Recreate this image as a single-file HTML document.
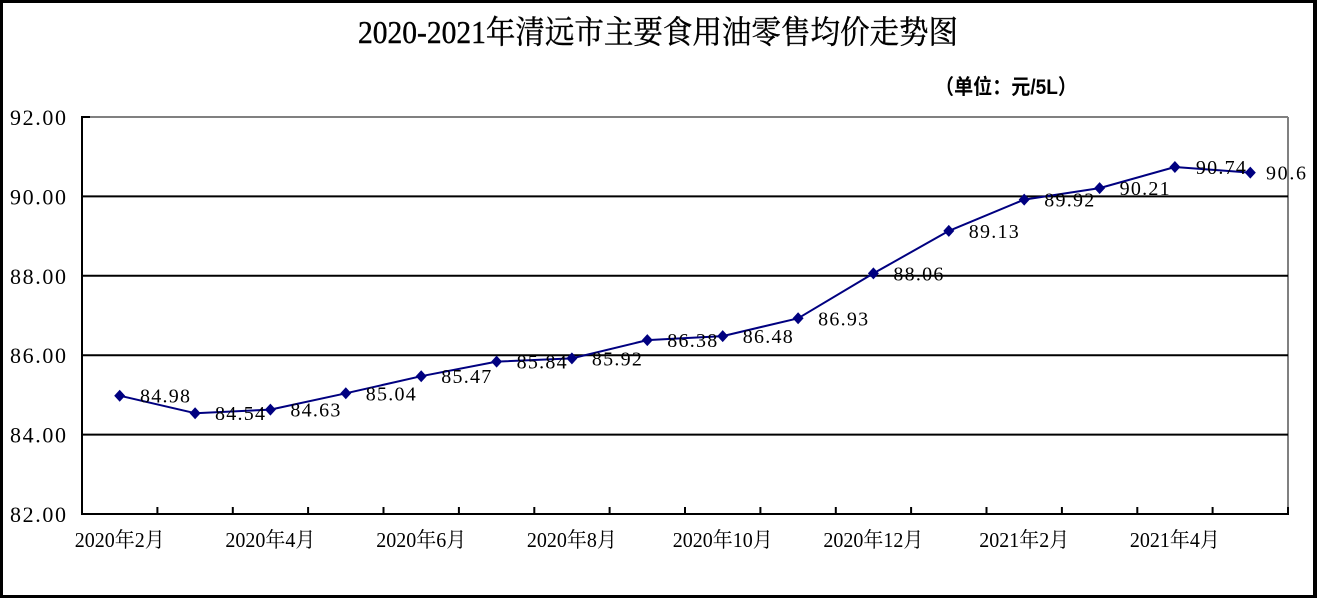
<!DOCTYPE html>
<html><head><meta charset="utf-8"><style>
html,body{margin:0;padding:0;background:#fff;}
svg{display:block;}
</style></head><body>
<svg width="1317" height="598" viewBox="0 0 1317 598" xmlns="http://www.w3.org/2000/svg">
<rect x="0" y="0" width="1317" height="598" fill="#fff"/>
<!-- outer border -->
<rect x="0" y="0" width="1317" height="3" fill="#000"/>
<rect x="0" y="0" width="3" height="598" fill="#000"/>
<rect x="1313" y="0" width="4" height="598" fill="#000"/>
<rect x="0" y="595" width="1317" height="3" fill="#000"/>

<!-- title -->
<text x="358" y="43" font-size="32" textLength="600" lengthAdjust="spacingAndGlyphs" font-family="'Liberation Serif','Noto Serif CJK SC',serif" fill="#000" stroke="#000" stroke-width="0.4">2020-2021年清远市主要食用油零售均价走势图</text>
<text x="935" y="94" font-size="21" font-weight="bold" textLength="142" lengthAdjust="spacingAndGlyphs" font-family="'Liberation Sans','Noto Sans CJK SC',sans-serif" fill="#000">（单位：元/5L）</text>

<!-- plot frame -->
<line x1="82" y1="117" x2="1288" y2="117" stroke="#808080" stroke-width="2"/>
<line x1="1288" y1="117" x2="1288" y2="514" stroke="#808080" stroke-width="2"/>
<!-- gridlines -->
<g stroke="#000" stroke-width="2">
<line x1="82" y1="196.4" x2="1288" y2="196.4"/>
<line x1="82" y1="275.8" x2="1288" y2="275.8"/>
<line x1="82" y1="355.2" x2="1288" y2="355.2"/>
<line x1="82" y1="434.6" x2="1288" y2="434.6"/>
<line x1="82" y1="514" x2="1289" y2="514"/>
<line x1="82" y1="116" x2="82" y2="515"/>
<line x1="82" y1="117" x2="90" y2="117"/>
</g>
<!-- x ticks -->
<g stroke="#000" stroke-width="2">
<line x1="157.4" y1="507" x2="157.4" y2="514"/>
<line x1="232.8" y1="507" x2="232.8" y2="514"/>
<line x1="308.1" y1="507" x2="308.1" y2="514"/>
<line x1="383.5" y1="507" x2="383.5" y2="514"/>
<line x1="458.9" y1="507" x2="458.9" y2="514"/>
<line x1="534.3" y1="507" x2="534.3" y2="514"/>
<line x1="609.6" y1="507" x2="609.6" y2="514"/>
<line x1="685" y1="507" x2="685" y2="514"/>
<line x1="760.4" y1="507" x2="760.4" y2="514"/>
<line x1="835.8" y1="507" x2="835.8" y2="514"/>
<line x1="911.1" y1="507" x2="911.1" y2="514"/>
<line x1="986.5" y1="507" x2="986.5" y2="514"/>
<line x1="1061.9" y1="507" x2="1061.9" y2="514"/>
<line x1="1137.3" y1="507" x2="1137.3" y2="514"/>
<line x1="1212.6" y1="507" x2="1212.6" y2="514"/>
<line x1="1288" y1="507" x2="1288" y2="514"/>
</g>

<!-- y labels -->
<g font-family="'Liberation Serif','Noto Serif CJK SC',serif" font-size="22" fill="#000">
<text x="10" y="125" textLength="56" lengthAdjust="spacing">92.00</text>
<text x="10" y="204.4" textLength="56" lengthAdjust="spacing">90.00</text>
<text x="10" y="283.8" textLength="56" lengthAdjust="spacing">88.00</text>
<text x="10" y="363.2" textLength="56" lengthAdjust="spacing">86.00</text>
<text x="10" y="442.6" textLength="56" lengthAdjust="spacing">84.00</text>
<text x="10" y="522" textLength="56" lengthAdjust="spacing">82.00</text>
</g>

<!-- x labels -->
<g font-family="'Liberation Serif','Noto Serif CJK SC',serif" font-size="21" fill="#000">
<text x="74.7" y="547" textLength="90" lengthAdjust="spacingAndGlyphs">2020年2月</text>
<text x="225.4" y="547" textLength="90" lengthAdjust="spacingAndGlyphs">2020年4月</text>
<text x="376.2" y="547" textLength="90" lengthAdjust="spacingAndGlyphs">2020年6月</text>
<text x="526.9" y="547" textLength="90" lengthAdjust="spacingAndGlyphs">2020年8月</text>
<text x="672.7" y="547" textLength="100" lengthAdjust="spacingAndGlyphs">2020年10月</text>
<text x="823.4" y="547" textLength="100" lengthAdjust="spacingAndGlyphs">2020年12月</text>
<text x="979.2" y="547" textLength="90" lengthAdjust="spacingAndGlyphs">2021年2月</text>
<text x="1129.9" y="547" textLength="90" lengthAdjust="spacingAndGlyphs">2021年4月</text>
</g>

<!-- series line -->
<polyline fill="none" stroke="#000080" stroke-width="2" stroke-linejoin="round" points="119.7,395.7 195.1,413.2 270.4,409.6 345.8,393.3 421.2,376.2 496.6,361.6 571.9,358.4 647.3,340.1 722.7,336.1 798.1,318.3 873.4,273.4 948.8,230.9 1024.2,199.6 1099.6,188.1 1174.9,167 1250.3,172.6"/>
<!-- markers -->
<g fill="#000080">
<polygon points="119.7,389.7 125.2,395.7 119.7,401.7 114.2,395.7"/>
<polygon points="195.1,407.2 200.6,413.2 195.1,419.2 189.6,413.2"/>
<polygon points="270.4,403.6 275.9,409.6 270.4,415.6 264.9,409.6"/>
<polygon points="345.8,387.3 351.3,393.3 345.8,399.3 340.3,393.3"/>
<polygon points="421.2,370.2 426.7,376.2 421.2,382.2 415.7,376.2"/>
<polygon points="496.6,355.6 502.1,361.6 496.6,367.6 491.1,361.6"/>
<polygon points="571.9,352.4 577.4,358.4 571.9,364.4 566.4,358.4"/>
<polygon points="647.3,334.1 652.8,340.1 647.3,346.1 641.8,340.1"/>
<polygon points="722.7,330.1 728.2,336.1 722.7,342.1 717.2,336.1"/>
<polygon points="798.1,312.3 803.6,318.3 798.1,324.3 792.6,318.3"/>
<polygon points="873.4,267.4 878.9,273.4 873.4,279.4 867.9,273.4"/>
<polygon points="948.8,224.9 954.3,230.9 948.8,236.9 943.3,230.9"/>
<polygon points="1024.2,193.6 1029.7,199.6 1024.2,205.6 1018.7,199.6"/>
<polygon points="1099.6,182.1 1105.1,188.1 1099.6,194.1 1094.1,188.1"/>
<polygon points="1174.9,161 1180.4,167 1174.9,173 1169.4,167"/>
<polygon points="1250.3,166.6 1255.8,172.6 1250.3,178.6 1244.8,172.6"/>
</g>

<!-- data labels -->
<g font-family="'Liberation Serif','Noto Serif CJK SC',serif" font-size="20" fill="#000">
<text x="140" y="402.7" textLength="50" lengthAdjust="spacing">84.98</text>
<text x="215" y="420.2" textLength="50" lengthAdjust="spacing">84.54</text>
<text x="290.4" y="416.6" textLength="50" lengthAdjust="spacing">84.63</text>
<text x="365.8" y="400.3" textLength="50" lengthAdjust="spacing">85.04</text>
<text x="441.2" y="383.2" textLength="50" lengthAdjust="spacing">85.47</text>
<text x="516.6" y="368.6" textLength="50" lengthAdjust="spacing">85.84</text>
<text x="591.9" y="365.4" textLength="50" lengthAdjust="spacing">85.92</text>
<text x="667.3" y="347.1" textLength="50" lengthAdjust="spacing">86.38</text>
<text x="742.7" y="343.1" textLength="50" lengthAdjust="spacing">86.48</text>
<text x="818.1" y="325.3" textLength="50" lengthAdjust="spacing">86.93</text>
<text x="893.4" y="280.4" textLength="50" lengthAdjust="spacing">88.06</text>
<text x="968.8" y="237.9" textLength="50" lengthAdjust="spacing">89.13</text>
<text x="1044.2" y="206.6" textLength="50" lengthAdjust="spacing">89.92</text>
<text x="1119.6" y="195.1" textLength="50" lengthAdjust="spacing">90.21</text>
<text x="1195.9" y="174" textLength="50" lengthAdjust="spacing">90.74</text>
<text x="1266" y="179.6" textLength="40" lengthAdjust="spacing">90.6</text>
</g>
</svg>
</body></html>
